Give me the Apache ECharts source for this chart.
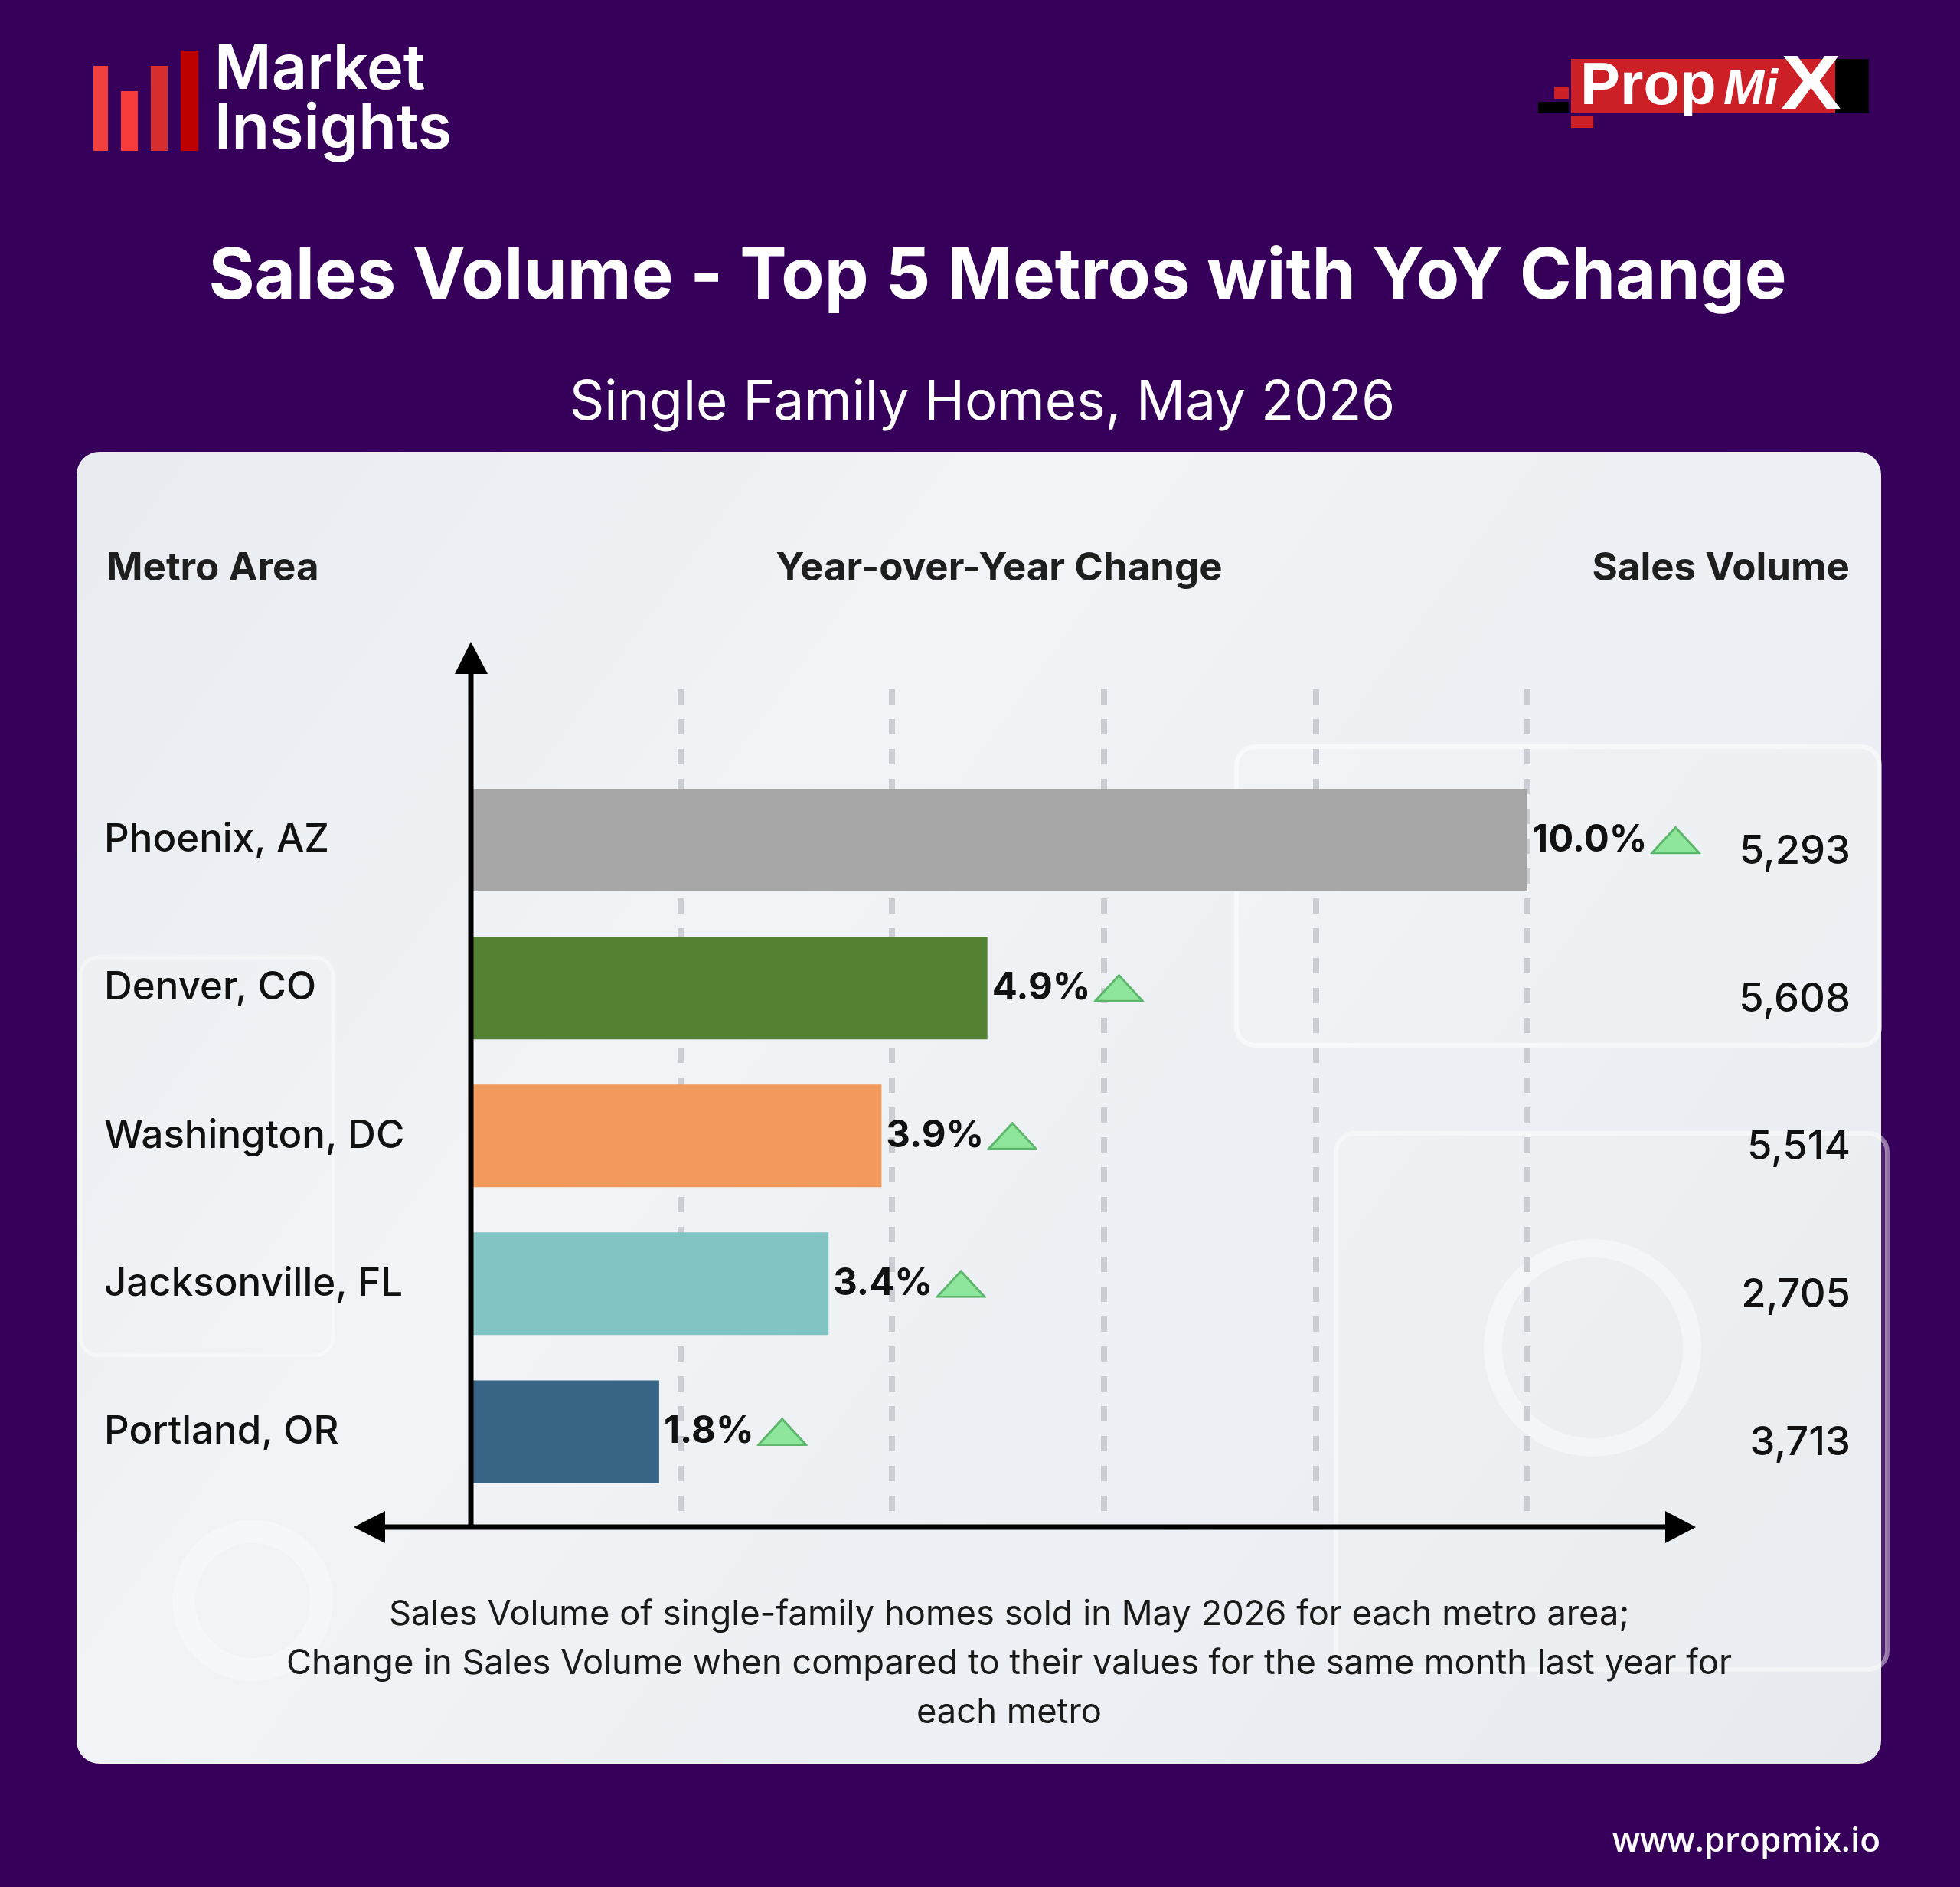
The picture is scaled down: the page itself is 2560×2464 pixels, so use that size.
<!DOCTYPE html>
<html>
<head>
<meta charset="utf-8">
<script src="https://cdn.jsdelivr.net/npm/echarts@6/dist/echarts.min.js"></script>
<style>
html,body{margin:0;padding:0;background:#36005a;}
#chart{width:2560px;height:2464px;}
</style>
</head>
<body>
<div id="chart"></div>
<script>
// ---- data ----
const metros = ['Phoenix, AZ', 'Denver, CO', 'Washington, DC', 'Jacksonville, FL', 'Portland, OR'];
const yoyChange = [10.0, 4.9, 3.9, 3.4, 1.8];
const salesVolume = [5293, 5608, 5514, 2705, 3713];
const barColors = ['#a6a6a6', '#548235', '#f19a5c', '#82c3c3', '#386585'];
const xAxisMin = 0;
const xAxisMax = 10;
const xAxisStep = 2;
const titleText = 'Sales Volume - Top 5 Metros with YoY Change';
const subtitleText = 'Single Family Homes, May 2026';
const headers = ['Metro Area', 'Year-over-Year Change', 'Sales Volume'];
const footnoteLines = [
  'Sales Volume of single-family homes sold in May 2026 for each metro area;',
  'Change in Sales Volume when compared to their values for the same month last year for',
  'each metro'
];

const F = 'Inter, "Noto Sans", sans-serif';
const L = '"Liberation Sans", Arial, sans-serif';
const triSvg = '<svg xmlns="http://www.w3.org/2000/svg" width="68" height="38" viewBox="0 0 68 38">' +
  '<polygon points="2,36.5 34,2 66,36.5" fill="#8ee69c" stroke="#5db66c" stroke-width="3" stroke-linejoin="miter"/></svg>';
const triUrl = 'data:image/svg+xml;charset=utf-8,' + encodeURIComponent(triSvg);

const chart = echarts.init(document.getElementById('chart'), null, {renderer: 'canvas'});

function txt(text, x, y, font, fill, align, extra) {
  return Object.assign({
    type: 'text', x: x, y: y, z: 20,
    style: {text: text, font: font, fill: fill, align: align, textAlign: align,
            verticalAlign: 'middle', textVerticalAlign: 'middle'}
  }, extra || {});
}

const graphics = [
  // panel
  {type: 'rect', z: -10, shape: {x: 100, y: 590, width: 2357, height: 1713, r: 30},
   style: {fill: new echarts.graphic.LinearGradient(0, 0, 1, 1, [
     {offset: 0, color: '#e8ecf0'}, {offset: 0.35, color: '#f1f3f6'},
     {offset: 0.7, color: '#eceff3'}, {offset: 1, color: '#e6eaee'}])}},
  // faint decorative shapes
  {type: 'rect', z: -9, shape: {x: 1615, y: 975, width: 840, height: 390, r: 24},
   style: {fill: 'rgba(255,255,255,0.15)', stroke: 'rgba(255,255,255,0.5)', lineWidth: 6}},
  {type: 'rect', z: -9, shape: {x: 1745, y: 1480, width: 720, height: 700, r: 24},
   style: {fill: 'rgba(255,255,255,0.12)', stroke: 'rgba(255,255,255,0.45)', lineWidth: 6}},
  {type: 'rect', z: -9, shape: {x: 105, y: 1250, width: 330, height: 520, r: 24},
   style: {fill: 'rgba(255,255,255,0.1)', stroke: 'rgba(255,255,255,0.4)', lineWidth: 5}},
  {type: 'circle', z: -9, shape: {cx: 2080, cy: 1760, r: 130},
   style: {fill: 'none', stroke: 'rgba(255,255,255,0.4)', lineWidth: 24}},
  {type: 'circle', z: -9, shape: {cx: 330, cy: 2090, r: 90},
   style: {fill: 'none', stroke: 'rgba(255,255,255,0.35)', lineWidth: 30}},

  // Market Insights logo bars
  {type: 'rect', z: 5, shape: {x: 122, y: 86, width: 19, height: 111}, style: {fill: '#f2403f'}},
  {type: 'rect', z: 5, shape: {x: 158, y: 119, width: 22, height: 78}, style: {fill: '#f53b3b'}},
  {type: 'rect', z: 5, shape: {x: 197, y: 86, width: 22, height: 111}, style: {fill: '#d72f2f'}},
  {type: 'rect', z: 5, shape: {x: 236, y: 66, width: 23, height: 131}, style: {fill: '#bd0000'}},
  txt('Market', 280, 92, '600 81px ' + F, '#ffffff', 'left'),
  txt('Insights', 280, 170, '600 81px ' + F, '#ffffff', 'left'),

  // PropMix logo
  {type: 'rect', z: 5, shape: {x: 2030, y: 114, width: 19, height: 15}, style: {fill: '#cc1f26'}},
  {type: 'rect', z: 5, shape: {x: 2009, y: 133, width: 40, height: 15}, style: {fill: '#000000'}},
  {type: 'rect', z: 5, shape: {x: 2052, y: 152, width: 29, height: 15}, style: {fill: '#cc1f26'}},
  {type: 'rect', z: 5, shape: {x: 2052, y: 77, width: 345, height: 71}, style: {fill: '#cc1f26'}},
  {type: 'rect', z: 5, shape: {x: 2397, y: 77, width: 44, height: 71}, style: {fill: '#000000'}},
  txt('Prop', 2064, 114, 'bold 78px ' + L, '#ffffff', 'left'),
  txt('Mi', 2251, 118, 'italic bold 64px ' + L, '#ffffff', 'left'),
  txt('X', 2326, 114, 'bold 100px ' + L, '#ffffff', 'left', {scaleX: 1.18, originX: 0, originY: 0}),

  // titles
  txt(titleText, 1303, 362, '700 92px ' + F, '#ffffff', 'center'),
  txt(subtitleText, 1283, 527, '400 71px ' + F, '#ffffff', 'center'),

  // column headers
  txt(headers[0], 139, 743, '700 51px ' + F, '#1e1e1e', 'left'),
  txt(headers[1], 1305, 743, '700 51px ' + F, '#1e1e1e', 'center'),
  txt(headers[2], 2416, 743, '700 51px ' + F, '#1e1e1e', 'right'),

  // footnote
  txt(footnoteLines[0], 1318, 2108, '400 45.3px ' + F, '#1a1a1a', 'center'),
  txt(footnoteLines[1], 1318, 2172, '400 45.3px ' + F, '#1a1a1a', 'center'),
  txt(footnoteLines[2], 1318, 2236, '400 45.3px ' + F, '#1a1a1a', 'center'),

  // website
  txt('www.propmix.io', 2456, 2405, '600 44px "Open Sans", ' + F, '#ffffff', 'right'),

  // axis arrows
  {type: 'line', z: 50, shape: {x1: 615, y1: 1994, x2: 615, y2: 876}, style: {stroke: '#000', lineWidth: 7}},
  {type: 'polygon', z: 50, shape: {points: [[615, 838], [594, 880], [637, 880]]}, style: {fill: '#000'}},
  {type: 'line', z: 50, shape: {x1: 500, y1: 1994, x2: 2178, y2: 1994}, style: {stroke: '#000', lineWidth: 7}},
  {type: 'polygon', z: 50, shape: {points: [[462, 1994], [503, 1973], [503, 2015]]}, style: {fill: '#000'}},
  {type: 'polygon', z: 50, shape: {points: [[2215, 1994], [2175, 1973], [2175, 2015]]}, style: {fill: '#000'}}
];

const option = {
  backgroundColor: '#36005a',
  animation: false,
  grid: [
    {left: 612, width: 1383, top: 900, height: 1089},
    {left: 612, width: 1383, top: 1000.5, height: 965.5}
  ],
  xAxis: [
    {gridIndex: 0, type: 'value', min: xAxisMin, max: xAxisMax, interval: xAxisStep,
     axisLine: {show: false}, axisTick: {show: false}, axisLabel: {show: false},
     splitLine: {show: true, showMinLine: false, showMaxLine: true,
                 lineStyle: {color: '#cacdd1', width: 8, type: [20, 19]}}},
    {gridIndex: 1, type: 'value', min: xAxisMin, max: xAxisMax, show: false,
     splitLine: {show: false}}
  ],
  yAxis: [
    {gridIndex: 0, type: 'value', min: 0, max: 1, show: false, splitLine: {show: false}},
    {gridIndex: 1, type: 'category', data: metros, inverse: true,
     axisLine: {show: false}, axisTick: {show: false}, splitLine: {show: false},
     axisLabel: {align: 'left', margin: 476, fontFamily: F, fontSize: 51, fontWeight: 500, color: '#111111'}},
    {gridIndex: 1, type: 'category', position: 'right', inverse: true,
     data: salesVolume.map(v => v.toLocaleString('en-US')),
     axisLine: {show: false}, axisTick: {show: false}, splitLine: {show: false},
     axisLabel: {align: 'right', margin: 422, fontFamily: F, fontSize: 52.5, fontWeight: 500, color: '#111111',
                 verticalAlign: 'top', lineHeight: 30}}
  ],
  series: [{
    type: 'bar',
    xAxisIndex: 1, yAxisIndex: 1,
    barWidth: 134,
    data: yoyChange.map((v, i) => ({value: v, itemStyle: {color: barColors[i]}})),
    label: {
      show: true, position: 'right', distance: 6,
      formatter: p => '{v|' + p.value.toFixed(1) + '%}{s|}{t|}',
      rich: {
        v: {fontFamily: F, fontSize: 49, fontWeight: 700, color: '#111111'},
        s: {width: 4, height: 10},
        t: {width: 66, height: 37, backgroundColor: {image: triUrl}}
      }
    }
  }],
  graphic: graphics
};
chart.setOption(option);
</script>
</body>
</html>
